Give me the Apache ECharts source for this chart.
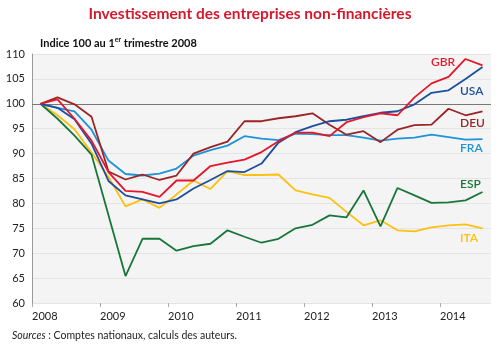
<!DOCTYPE html>
<html>
<head>
<meta charset="utf-8">
<script src="https://cdn.jsdelivr.net/npm/echarts@6/dist/echarts.min.js"></script>
<style>
  html, body { margin: 0; padding: 0; background: #fff; }
  #chart { width: 500px; height: 350px; }
</style>
</head>
<body>
<div id="chart"></div>
<script>
// trimestres 2008T1 .. 2014T3
var quarters = [
  '2008T1','2008T2','2008T3','2008T4','2009T1','2009T2','2009T3','2009T4',
  '2010T1','2010T2','2010T3','2010T4','2011T1','2011T2','2011T3','2011T4',
  '2012T1','2012T2','2012T3','2012T4','2013T1','2013T2','2013T3','2013T4',
  '2014T1','2014T2','2014T3'
];
var years = [2008, 2009, 2010, 2011, 2012, 2013, 2014];
var yTicks = [60, 65, 70, 75, 80, 85, 90, 95, 100, 105, 110];

var gbr = [100, 100.9, 97.0, 92.6, 86.3, 82.5, 82.3, 81.3, 84.6, 84.6, 87.5, 88.2, 88.8, 90.3,
  92.5, 94.2, 94.2, 93.5, 96.3, 97.3, 98.1, 97.7, 101.3, 104.1, 105.4, 109.0, 107.7];
var usa = [100, 99.2, 96.9, 92.0, 84.5, 81.6, 80.8, 80.0, 80.8, 83.0, 84.7, 86.5, 86.3, 88.0,
  92.2, 94.3, 95.5, 96.5, 96.8, 97.5, 98.2, 98.5, 99.9, 102.2, 102.7, 105.0, 107.4];
var deu = [100, 101.3, 99.9, 97.4, 86.4, 84.8, 85.8, 84.7, 85.6, 90.0, 91.3, 92.4, 96.5, 96.5,
  97.1, 97.5, 98.1, 95.8, 93.8, 94.5, 92.3, 94.8, 95.7, 95.8, 99.0, 97.7, 98.5];
var fra = [100, 99.2, 98.5, 94.8, 88.6, 85.9, 85.6, 86.0, 87.0, 89.6, 90.7, 91.6, 93.5, 93.0,
  92.7, 94.0, 93.9, 93.7, 93.7, 93.2, 92.6, 93.0, 93.2, 93.8, 93.3, 92.8, 92.9];
var esp = [100, 97.0, 93.6, 89.8, 77.6, 65.4, 72.9, 72.9, 70.5, 71.4, 71.9, 74.6, 73.3, 72.1,
  72.9, 75.0, 75.7, 77.6, 77.2, 82.6, 75.4, 83.1, 81.6, 80.1, 80.2, 80.6, 82.3];
var ita = [100, 97.7, 94.9, 90.2, 85.3, 79.4, 80.8, 79.1, 81.8, 84.6, 82.9, 86.5, 85.7, 85.7,
  85.8, 82.6, 81.8, 81.1, 78.3, 75.6, 76.6, 74.6, 74.4, 75.2, 75.6, 75.8, 75.0];

// position du trimestre sur l'axe des temps (milieu du trimestre)
function qx(q) {
  return parseInt(q.slice(0, 4), 10) + (parseInt(q.slice(5), 10) - 0.5) / 4;
}
function pts(vals) {
  return vals.map(function (v, i) { return [qx(quarters[i]), v]; });
}

var font = 'Lato, "Open Sans", sans-serif';
var series = [
  { name: 'ITA', data: ita, color: '#fdc010', x: 460, y: 238 },
  { name: 'ESP', data: esp, color: '#19763a', x: 460, y: 184 },
  { name: 'FRA', data: fra, color: '#1d93d8', x: 460, y: 148 },
  { name: 'DEU', data: deu, color: '#9a2426', x: 460, y: 123 },
  { name: 'USA', data: usa, color: '#1b4f9e', x: 460, y: 91 },
  { name: 'GBR', data: gbr, color: '#e5162b', x: 431, y: 62 }
];

var chart = echarts.init(document.getElementById('chart'));
chart.setOption({
  animation: false,
  grid: {
    left: 32, right: 9, top: 54, bottom: 47,
    show: true, backgroundColor: '#f4f4f4', borderWidth: 0
  },
  xAxis: {
    type: 'value',
    min: 2008, max: 2014.75,
    axisLine: { show: false },
    splitLine: { show: false },
    axisTick: { show: true, length: 4, lineStyle: { color: '#aaa' }, customValues: years },
    axisLabel: {
      customValues: years,
      align: 'left', margin: 8,
      color: '#222', fontSize: 11, fontFamily: font,
      formatter: function (v) { return String(v); }
    }
  },
  yAxis: {
    type: 'value',
    min: yTicks[0], max: yTicks[yTicks.length - 1], interval: 5,
    axisLine: { show: true, lineStyle: { color: '#999', width: 1 } },
    axisTick: { show: false },
    splitLine: { lineStyle: { color: '#e4e4e4', width: 1 } },
    axisLabel: { color: '#222', fontSize: 11, fontFamily: font, margin: 7 }
  },
  series: series.map(function (s, k) {
    var o = {
      name: s.name,
      type: 'line',
      data: pts(s.data),
      symbol: 'none',
      lineStyle: { color: s.color, width: 1.8 },
      z: 3
    };
    if (k === 0) {
      o.markLine = {
        silent: true, symbol: 'none', label: { show: false },
        lineStyle: { color: '#777', width: 1.2, type: 'solid' },
        data: [{ yAxis: 100 }],
        z: 2
      };
    }
    return o;
  }),
  graphic: [
    {
      type: 'text', left: 'center', top: 6,
      style: {
        text: 'Investissement des entreprises non-financières',
        fill: '#d5192d', font: 'bold 15.5px ' + font
      }
    },
    {
      type: 'text', left: 40, top: 36,
      style: {
        text: '{a|Indice 100 au 1}{b|er}{a| trimestre 2008}',
        rich: {
          a: { fill: '#111', font: 'bold 11px ' + font, verticalAlign: 'bottom', lineHeight: 13 },
          b: { fill: '#111', font: 'bold 7px ' + font, verticalAlign: 'top', lineHeight: 13, padding: [0, 0, 5, 0] }
        }
      }
    },
    {
      type: 'text', left: 12, top: 330,
      style: {
        text: '{i|Sources} : Comptes nationaux, calculs des auteurs.',
        fill: '#222', font: '10.5px ' + font,
        rich: { i: { font: 'italic 10.5px ' + font, fill: '#222' } }
      }
    }
  ].concat(series.map(function (s) {
    return {
      type: 'text', x: s.x, y: s.y,
      style: {
        text: s.name, fill: s.color, font: '600 12px ' + font,
        textVerticalAlign: 'middle'
      }
    };
  }))
});
</script>
</body>
</html>
